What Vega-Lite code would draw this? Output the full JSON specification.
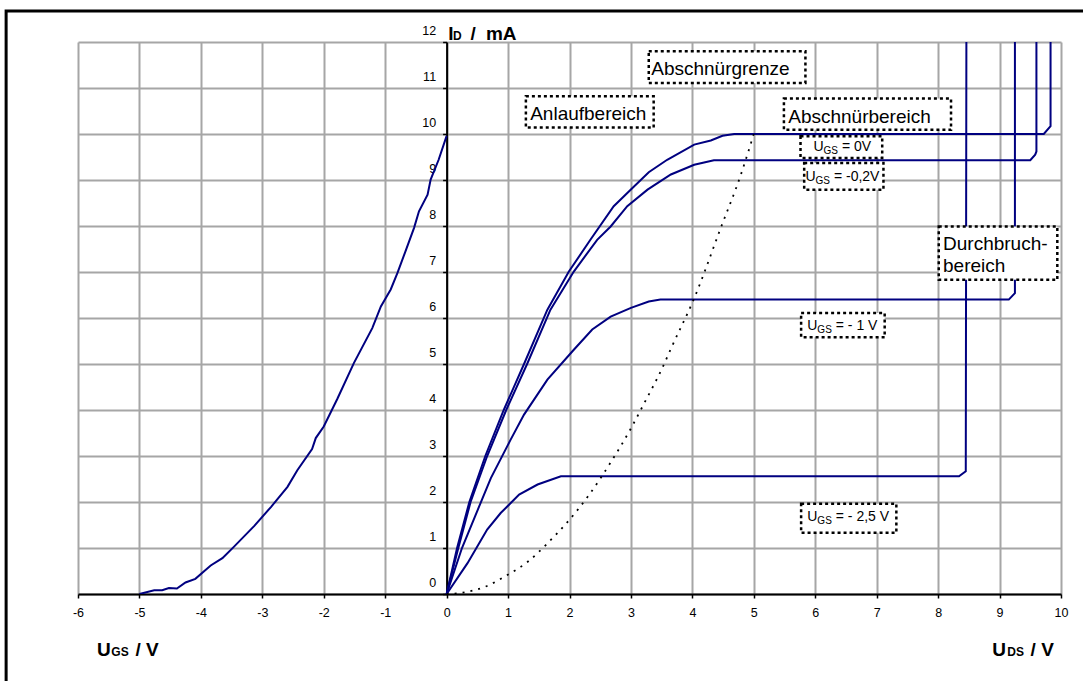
{
  "$schema": "https://vega.github.io/schema/vega-lite/v6.json",
  "autosize": {"type": "none"},
  "width": 983,
  "height": 552,
  "padding": {"left": 78, "top": 42, "right": 22, "bottom": 87},
  "background": "white",
  "config": {"view": {"stroke": null}, "font": "Liberation Sans"},
  "datasets": {
    "curves": [
      {"series": "transfer", "x": -5.0, "y": 0},
      {"series": "transfer", "x": -4.76, "y": 0.08},
      {"series": "transfer", "x": -4.63, "y": 0.08},
      {"series": "transfer", "x": -4.52, "y": 0.13},
      {"series": "transfer", "x": -4.39, "y": 0.12},
      {"series": "transfer", "x": -4.25, "y": 0.25},
      {"series": "transfer", "x": -4.09, "y": 0.33},
      {"series": "transfer", "x": -3.84, "y": 0.62},
      {"series": "transfer", "x": -3.65, "y": 0.78},
      {"series": "transfer", "x": -3.46, "y": 1.03},
      {"series": "transfer", "x": -3.13, "y": 1.48},
      {"series": "transfer", "x": -2.86, "y": 1.89},
      {"series": "transfer", "x": -2.59, "y": 2.33},
      {"series": "transfer", "x": -2.43, "y": 2.69},
      {"series": "transfer", "x": -2.19, "y": 3.15},
      {"series": "transfer", "x": -2.13, "y": 3.39},
      {"series": "transfer", "x": -2.0, "y": 3.64},
      {"series": "transfer", "x": -1.78, "y": 4.24},
      {"series": "transfer", "x": -1.51, "y": 5.02},
      {"series": "transfer", "x": -1.21, "y": 5.78},
      {"series": "transfer", "x": -1.07, "y": 6.25},
      {"series": "transfer", "x": -0.91, "y": 6.62},
      {"series": "transfer", "x": -0.8, "y": 6.98},
      {"series": "transfer", "x": -0.67, "y": 7.45},
      {"series": "transfer", "x": -0.53, "y": 7.96},
      {"series": "transfer", "x": -0.45, "y": 8.32},
      {"series": "transfer", "x": -0.31, "y": 8.68},
      {"series": "transfer", "x": -0.26, "y": 9.01},
      {"series": "transfer", "x": -0.13, "y": 9.44},
      {"series": "transfer", "x": 0.0, "y": 9.96},

      {"series": "u0", "x": 0, "y": 0},
      {"series": "u0", "x": 0.17, "y": 1.0},
      {"series": "u0", "x": 0.37, "y": 2.0},
      {"series": "u0", "x": 0.63, "y": 3.0},
      {"series": "u0", "x": 0.93, "y": 4.0},
      {"series": "u0", "x": 1.26, "y": 5.0},
      {"series": "u0", "x": 1.64, "y": 6.18},
      {"series": "u0", "x": 1.99, "y": 7.01},
      {"series": "u0", "x": 2.34, "y": 7.7},
      {"series": "u0", "x": 2.72, "y": 8.43},
      {"series": "u0", "x": 3.05, "y": 8.86},
      {"series": "u0", "x": 3.29, "y": 9.17},
      {"series": "u0", "x": 3.59, "y": 9.44},
      {"series": "u0", "x": 4.03, "y": 9.77},
      {"series": "u0", "x": 4.3, "y": 9.86},
      {"series": "u0", "x": 4.49, "y": 9.96},
      {"series": "u0", "x": 4.68, "y": 10.0},
      {"series": "u0", "x": 9.72, "y": 10.0},
      {"series": "u0", "x": 9.83, "y": 10.17},
      {"series": "u0", "x": 9.83, "y": 12},

      {"series": "u02", "x": 0, "y": 0},
      {"series": "u02", "x": 0.19, "y": 1.0},
      {"series": "u02", "x": 0.39, "y": 2.0},
      {"series": "u02", "x": 0.66, "y": 3.0},
      {"series": "u02", "x": 0.97, "y": 4.0},
      {"series": "u02", "x": 1.31, "y": 5.0},
      {"series": "u02", "x": 1.69, "y": 6.18},
      {"series": "u02", "x": 2.07, "y": 7.01},
      {"series": "u02", "x": 2.45, "y": 7.7},
      {"series": "u02", "x": 2.67, "y": 7.99},
      {"series": "u02", "x": 2.94, "y": 8.43},
      {"series": "u02", "x": 3.27, "y": 8.79},
      {"series": "u02", "x": 3.65, "y": 9.12},
      {"series": "u02", "x": 4.03, "y": 9.33},
      {"series": "u02", "x": 4.35, "y": 9.43},
      {"series": "u02", "x": 9.5, "y": 9.43},
      {"series": "u02", "x": 9.58, "y": 9.55},
      {"series": "u02", "x": 9.6, "y": 9.62},
      {"series": "u02", "x": 9.6, "y": 12},

      {"series": "u1", "x": 0, "y": 0},
      {"series": "u1", "x": 0.25, "y": 1.0},
      {"series": "u1", "x": 0.72, "y": 2.52},
      {"series": "u1", "x": 1.04, "y": 3.35},
      {"series": "u1", "x": 1.26, "y": 3.9},
      {"series": "u1", "x": 1.64, "y": 4.66},
      {"series": "u1", "x": 2.07, "y": 5.31},
      {"series": "u1", "x": 2.37, "y": 5.75},
      {"series": "u1", "x": 2.67, "y": 6.03},
      {"series": "u1", "x": 3.0, "y": 6.22},
      {"series": "u1", "x": 3.29, "y": 6.36},
      {"series": "u1", "x": 3.48, "y": 6.4},
      {"series": "u1", "x": 9.15, "y": 6.4},
      {"series": "u1", "x": 9.25, "y": 6.54},
      {"series": "u1", "x": 9.25, "y": 12},

      {"series": "u25", "x": 0, "y": 0},
      {"series": "u25", "x": 0.34, "y": 0.67},
      {"series": "u25", "x": 0.66, "y": 1.4},
      {"series": "u25", "x": 0.88, "y": 1.76},
      {"series": "u25", "x": 1.18, "y": 2.16},
      {"series": "u25", "x": 1.48, "y": 2.38},
      {"series": "u25", "x": 1.86, "y": 2.56},
      {"series": "u25", "x": 2.02, "y": 2.56},
      {"series": "u25", "x": 8.34, "y": 2.56},
      {"series": "u25", "x": 8.45, "y": 2.67},
      {"series": "u25", "x": 8.46, "y": 12}
    ],
    "grenze": [
      {"x": 0, "y": 0},
      {"x": 0.26, "y": 0.03},
      {"x": 0.61, "y": 0.15},
      {"x": 1.01, "y": 0.43},
      {"x": 1.32, "y": 0.7},
      {"x": 1.64, "y": 1.1},
      {"x": 1.99, "y": 1.6},
      {"x": 2.31, "y": 2.14},
      {"x": 2.67, "y": 2.86},
      {"x": 3.0, "y": 3.6},
      {"x": 3.19, "y": 4.08},
      {"x": 3.54, "y": 5.0},
      {"x": 3.65, "y": 5.33},
      {"x": 4.03, "y": 6.43},
      {"x": 4.46, "y": 7.95},
      {"x": 4.79, "y": 9.12},
      {"x": 5.0, "y": 10.0}
    ],
    "frame": [{"x": -7.17, "x2": 10.45, "y": 12.676, "y2": -2.2}],
    "boxes": [
      {"x": 3.29, "x2": 5.84, "y": 11.8, "y2": 11.11},
      {"x": 1.29, "x2": 3.37, "y": 10.82, "y2": 10.14},
      {"x": 5.49, "x2": 8.21, "y": 10.77, "y2": 10.09},
      {"x": 8.01, "x2": 9.94, "y": 7.99, "y2": 6.83},
      {"x": 5.76, "x2": 7.09, "y": 9.95, "y2": 9.48},
      {"x": 5.82, "x2": 7.11, "y": 9.37, "y2": 8.79},
      {"x": 5.77, "x2": 7.13, "y": 6.11, "y2": 5.58},
      {"x": 5.77, "x2": 7.32, "y": 1.96, "y2": 1.33}
    ],
    "bigText": [
      {"x": 3.33, "y": 11.29, "text": "Abschnürgrenze"},
      {"x": 1.36, "y": 10.31, "text": "Anlaufbereich"},
      {"x": 5.56, "y": 10.25, "text": "Abschnürbereich"},
      {"x": 8.08, "y": 7.47, "text": "Durchbruch-"},
      {"x": 8.08, "y": 7.01, "text": "bereich"}
    ],
    "ugs": [
      {"x": 5.97, "y": 9.62, "rest": "= 0V"},
      {"x": 5.84, "y": 8.98, "rest": "= -0,2V"},
      {"x": 5.87, "y": 5.75, "rest": "= - 1 V"},
      {"x": 5.87, "y": 1.59, "rest": "= - 2,5 V"}
    ],
    "titleBig": [
      {"x": 0.028, "y": 12.05, "text": "I"},
      {"x": 0.39, "y": 12.05, "text": "/"},
      {"x": 0.64, "y": 12.05, "text": "mA"},
      {"x": -5.69, "y": -1.357, "text": "U"},
      {"x": -5.066, "y": -1.357, "text": "/ V"},
      {"x": 8.882, "y": -1.357, "text": "U"},
      {"x": 9.505, "y": -1.357, "text": "/ V"}
    ],
    "titleSmall": [
      {"x": 0.105, "y": 12.05, "text": "D"},
      {"x": -5.457, "y": -1.357, "text": "GS"},
      {"x": 9.126, "y": -1.357, "text": "DS"}
    ]
  },
  "encoding": {
    "x": {
      "field": "x", "type": "quantitative",
      "scale": {"domain": [-6, 10], "nice": false, "zero": false},
      "axis": {
        "values": [-6,-5,-4,-3,-2,-1,0,1,2,3,4,5,6,7,8,9,10],
        "labelExpr": "'' + datum.value",
        "title": null, "grid": true, "gridColor": "#a6a6a6", "gridWidth": 2,
        "domainColor": "#000000", "domainWidth": 2,
        "tickColor": "#000000", "tickSize": 4, "tickWidth": 1.5,
        "labelFont": "Liberation Sans", "labelFontSize": 12.5, "labelColor": "#000000", "labelPadding": 8,
        "labelFlush": false, "labelOverlap": false, "labelBound": false
      }
    },
    "y": {
      "field": "y", "type": "quantitative",
      "scale": {"domain": [0, 12], "nice": false, "zero": false},
      "axis": {
        "values": [0,1,2,3,4,5,6,7,8,9,10,11,12],
        "labelExpr": "'' + datum.value",
        "title": null, "grid": true, "gridColor": "#a6a6a6", "gridWidth": 2,
        "offset": -368.6,
        "domainColor": "#000000", "domainWidth": 2,
        "tickColor": "#000000", "tickSize": 4, "tickWidth": 1.5,
        "labelFont": "Liberation Sans", "labelFontSize": 12.5, "labelColor": "#000000", "labelPadding": 7,
        "labelBaseline": "alphabetic", "labelOffset": -7.5,
        "labelFlush": false, "labelOverlap": false, "labelBound": false
      }
    }
  },
  "layer": [
    {
      "data": {"name": "frame"},
      "mark": {"type": "rect", "fill": null, "stroke": "#000000", "strokeWidth": 3, "clip": false},
      "encoding": {"x2": {"field": "x2"}, "y2": {"field": "y2"}}
    },
    {
      "data": {"name": "curves"},
      "mark": {"type": "line", "color": "#000080", "strokeWidth": 2, "clip": true},
      "encoding": {"detail": {"field": "series"}, "order": {"value": null}}
    },
    {
      "data": {"name": "grenze"},
      "mark": {"type": "line", "color": "#000000", "strokeWidth": 1.8, "strokeDash": [2, 6], "interpolate": "monotone"},
      "encoding": {"order": {"value": null}}
    },
    {
      "data": {"name": "boxes"},
      "mark": {"type": "rect", "fill": "#ffffff", "stroke": "#000000", "strokeWidth": 2.5, "strokeDash": [3, 3]},
      "encoding": {"x2": {"field": "x2"}, "y2": {"field": "y2"}}
    },
    {
      "data": {"name": "bigText"},
      "mark": {"type": "text", "fontSize": 19, "align": "left", "baseline": "alphabetic", "color": "#000000"},
      "encoding": {"text": {"field": "text"}}
    },
    {
      "data": {"name": "ugs"},
      "mark": {"type": "text", "fontSize": 14, "align": "left", "baseline": "alphabetic", "color": "#000000", "text": "U"},
      "encoding": {}
    },
    {
      "data": {"name": "ugs"},
      "mark": {"type": "text", "fontSize": 10, "align": "left", "baseline": "alphabetic", "color": "#000000", "text": "GS", "dx": 10.1, "dy": 3},
      "encoding": {}
    },
    {
      "data": {"name": "ugs"},
      "mark": {"type": "text", "fontSize": 14, "align": "left", "baseline": "alphabetic", "color": "#000000", "dx": 28.5},
      "encoding": {"text": {"field": "rest"}}
    },
    {
      "data": {"name": "titleBig"},
      "mark": {"type": "text", "fontSize": 19, "fontWeight": "bold", "align": "left", "baseline": "alphabetic", "color": "#000000", "clip": false},
      "encoding": {"text": {"field": "text"}}
    },
    {
      "data": {"name": "titleSmall"},
      "mark": {"type": "text", "fontSize": 12, "fontWeight": "bold", "align": "left", "baseline": "alphabetic", "color": "#000000", "clip": false},
      "encoding": {"text": {"field": "text"}}
    }
  ]
}
